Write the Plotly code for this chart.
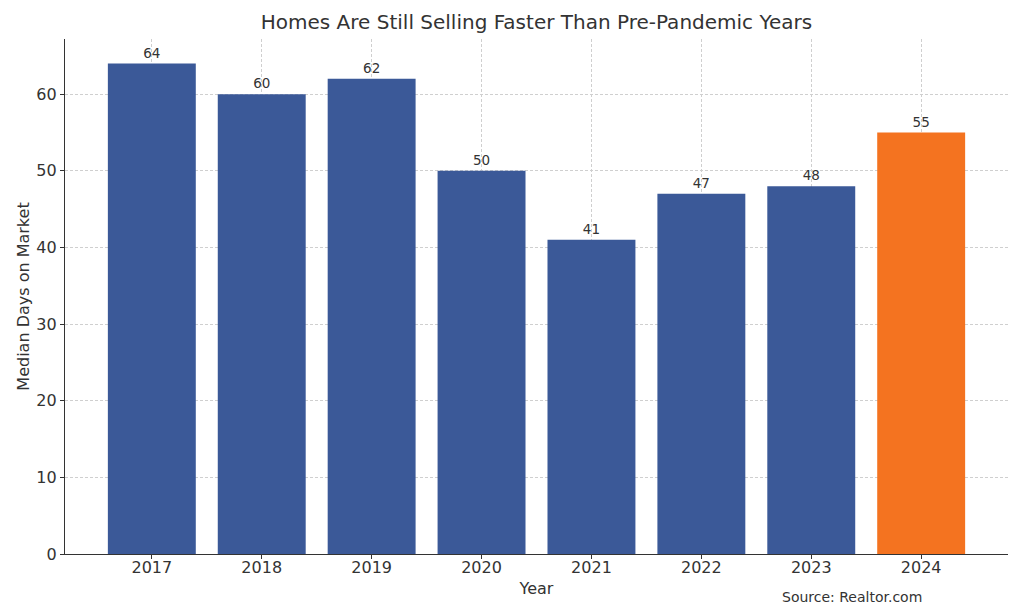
import plotly.graph_objects as go

years = ["2017", "2018", "2019", "2020", "2021", "2022", "2023", "2024"]
days = [64, 60, 62, 50, 41, 47, 48, 55]
colors = ["#3B5998"] * 7 + ["#F47320"]

font = "DejaVu Sans"
fig = go.Figure(go.Bar(
    x=years, y=days, marker=dict(color=colors, line=dict(width=0)), width=0.8,
    text=[str(v) for v in days], textposition="outside", cliponaxis=False,
    constraintext="none",
    textfont=dict(family=font, size=13.5, color="#333333"),
))
fig.update_layout(
    width=1016, height=606,
    margin=dict(l=57, r=16, t=31, b=60),
    paper_bgcolor="white", plot_bgcolor="white",
    font=dict(family=font, color="#333333"),
    title=dict(text="Homes Are Still Selling Faster Than Pre-Pandemic Years",
               x=0.5, xanchor="center", xref="paper", y=0.977, yanchor="middle",
               font=dict(family=font, size=20, color="#333333")),
    showlegend=False,
    annotations=[dict(text="Source: Realtor.com", xref="paper", yref="paper",
                      x=0.835, y=-0.064, xanchor="center", yanchor="top", showarrow=False,
                      font=dict(family=font, size=14, color="#333333"))],
)
grid = dict(showgrid=True, gridcolor="#cfcfcf", griddash="3px,2px", gridwidth=0.8)
fig.update_xaxes(
    type="category", range=[-0.79, 7.79],
    showline=True, linecolor="#333333", linewidth=1.2,
    ticks="outside", ticklen=4, tickcolor="#333333", ticklabelstandoff=-5,
    tickfont=dict(size=16, family=font, color="#333333"),
    layer="above traces", **grid,
    title=dict(text="Year", font=dict(size=16, family=font, color="#333333"), standoff=6),
)
fig.update_yaxes(
    range=[0, 67.2], dtick=10,
    showline=True, linecolor="#333333", linewidth=1.2,
    ticks="outside", ticklen=4, tickcolor="#333333",
    tickfont=dict(size=16, family=font, color="#333333"),
    zeroline=False, layer="above traces", **grid,
    title=dict(text="Median Days on Market", font=dict(size=16, family=font, color="#333333"), standoff=2),
)
fig.write_html("out.html")
